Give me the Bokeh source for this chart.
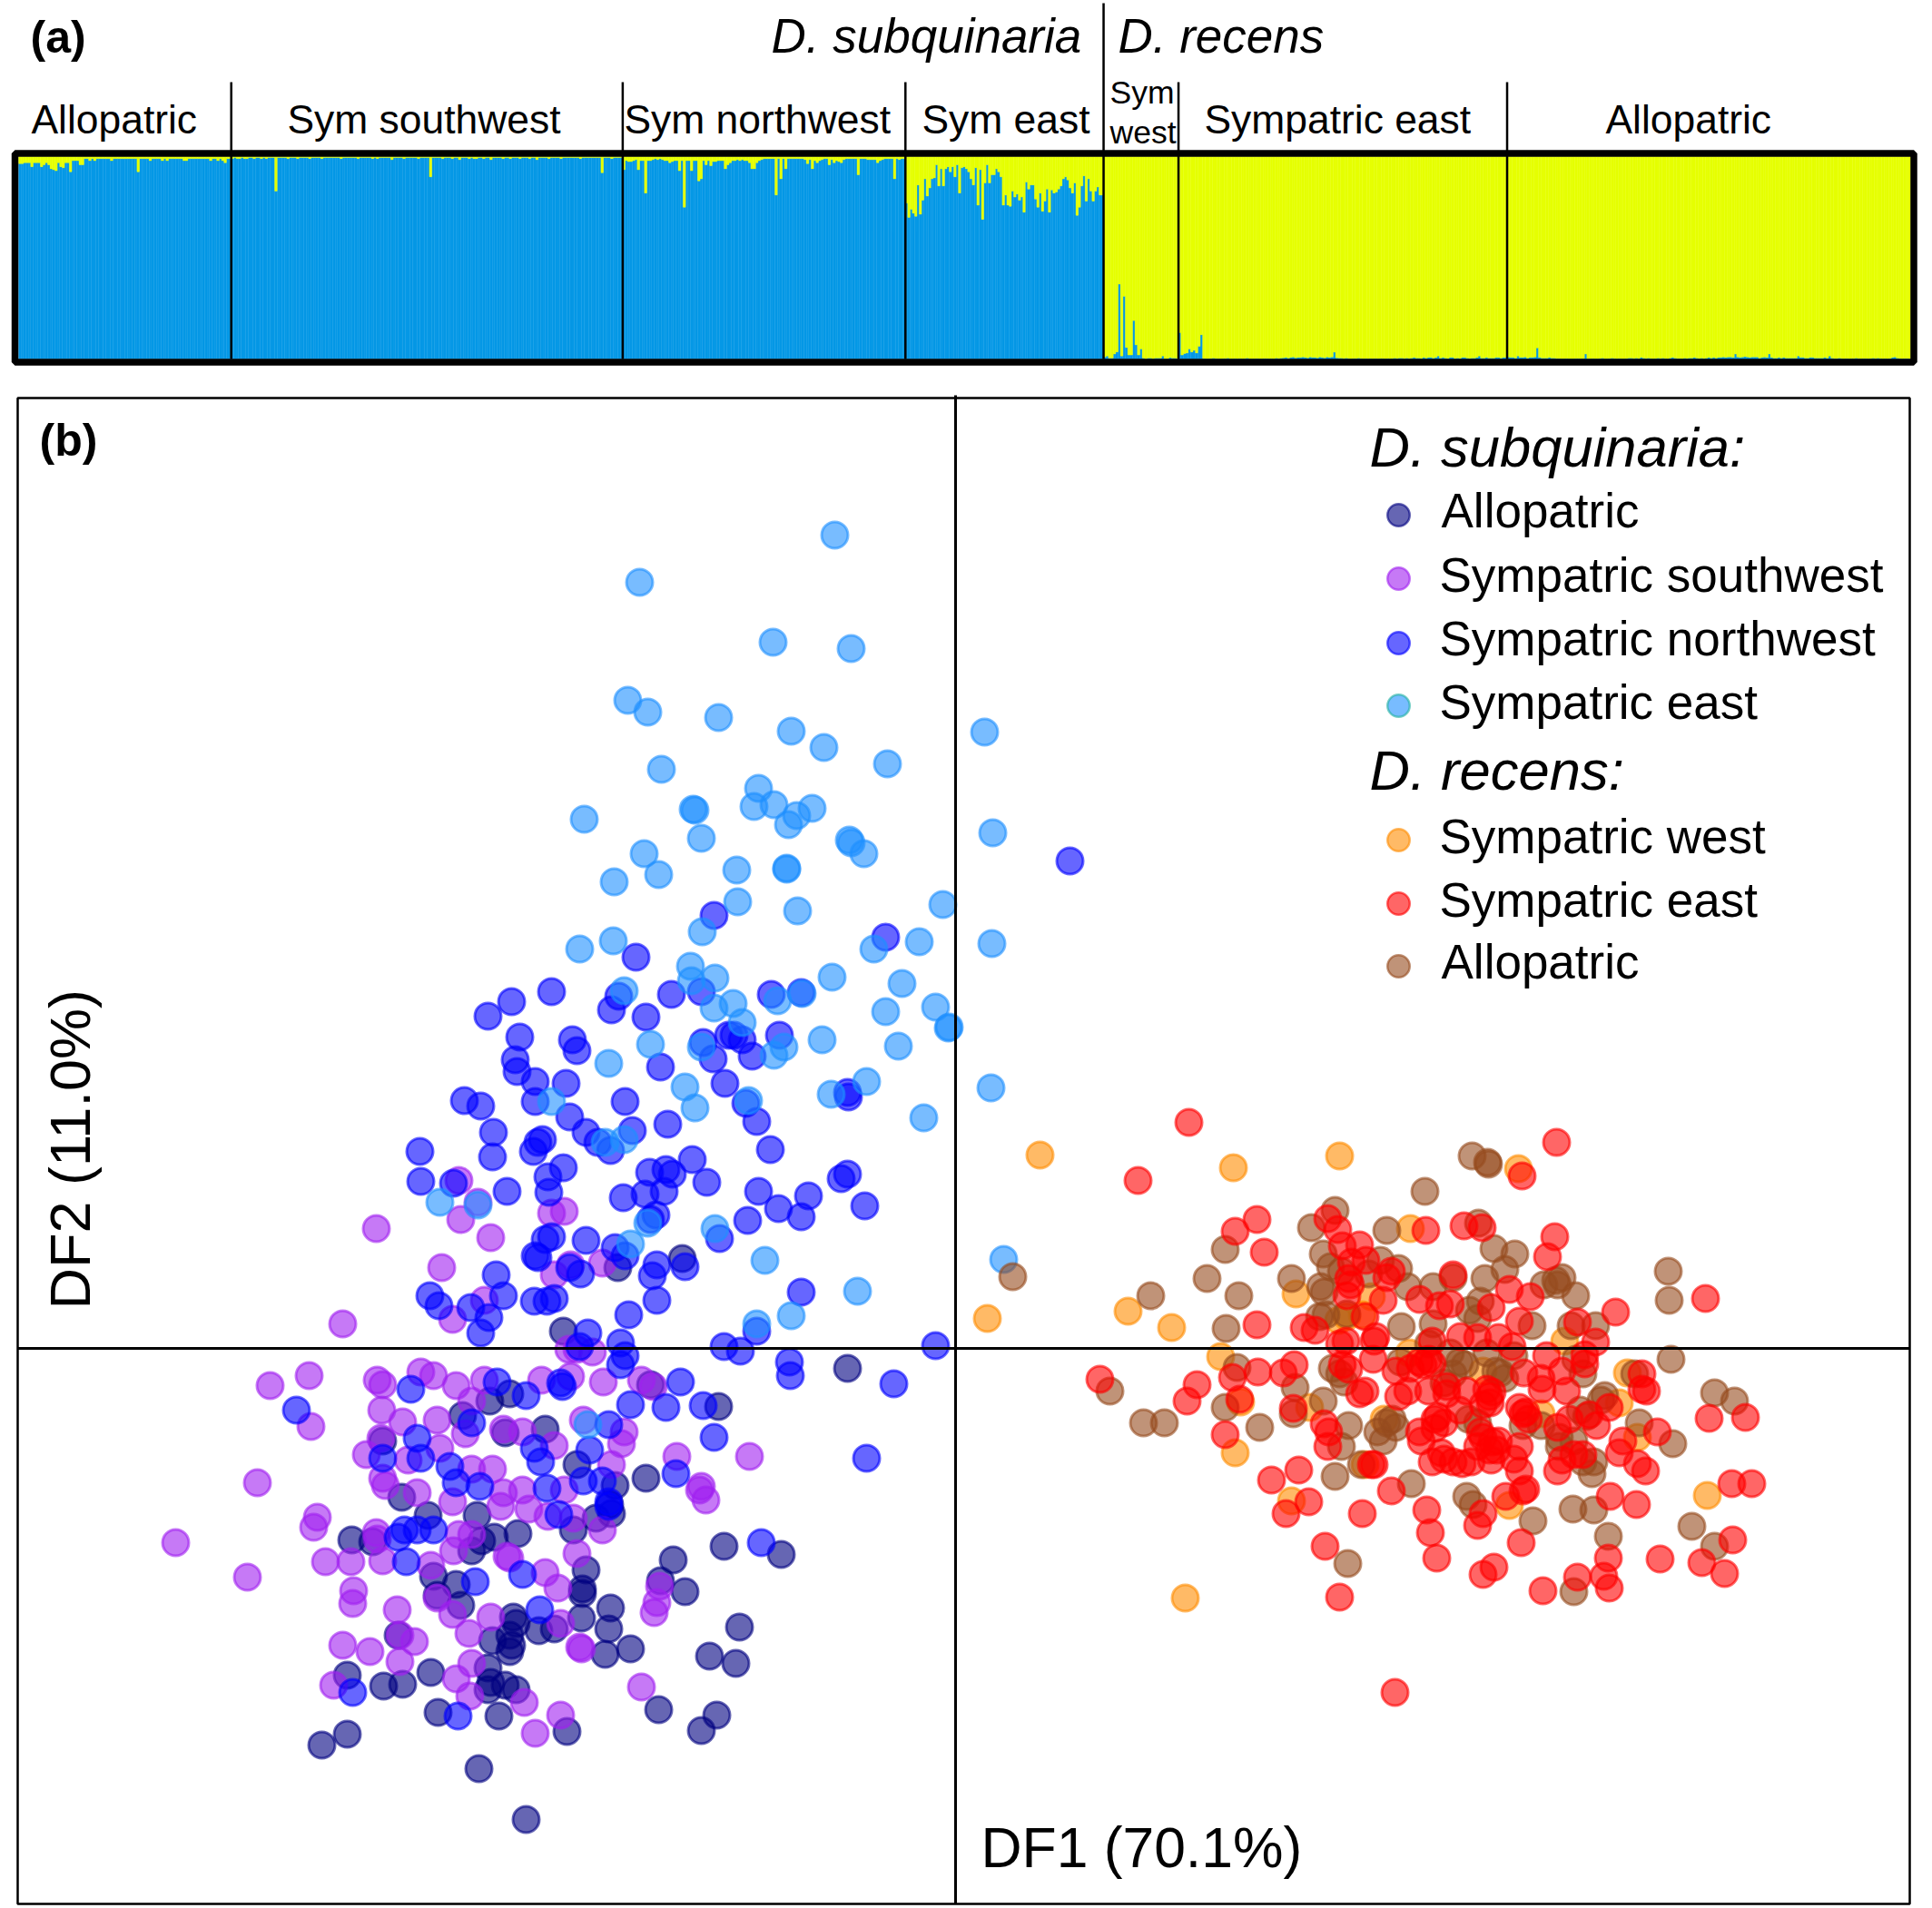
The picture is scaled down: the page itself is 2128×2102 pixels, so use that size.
# Structure barplot (a) and DAPC scatter (b), D. subquinaria / D. recens
import math

from bokeh.embed import file_html
from bokeh.layouts import column
from bokeh.models import Label, Range1d
from bokeh.plotting import figure
from bokeh.resources import INLINE

# (a) share of the other species' cluster per individual, in percent
# D. subquinaria groups: yellow share
sub_allo_yellow = [
    3.5, 3.5, 3, 3, 3, 5, 3, 3, 3, 5,
    4, 3, 4, 6, 6.5, 7, 3, 5, 5.5, 3,
    3, 7.5, 2, 2, 2, 4, 4, 1, 1, 2,
    1, 2, 1, 1, 1, 1, 1, 1, 2, 1,
    1, 1, 1, 1, 1, 1, 1, 1, 1, 7.5,
    1, 1, 1, 1, 2, 1, 1, 1, 1, 2,
    1, 2, 1, 1, 1, 1, 1, 1, 2, 2,
    1, 1, 1, 1, 1, 1, 1, 1, 1, 2,
    1, 1, 2, 1, 2, 3, 1, 1]
sub_sw_yellow = [
    1, .5, 1, 1, .5, 1, 1, .5, .5, 1,
    .5, .5, 1, .5, 1, .5, .5, .5, 17, .5,
    .5, .5, .5, 1, .5, .5, .5, 1, .5, .5,
    .5, .5, 1, .5, .5, .5, .5, 1, .5, .5,
    .5, .5, .5, .5, .5, 1, .5, .5, .5, .5,
    .5, .5, 1, .5, .5, .5, .5, .5, 1, .5,
    1, .5, .5, .5, .5, .5, 1.5, .5, .5, .5,
    .5, 1, .5, .5, .5, .5, .5, 1, .5, .5,
    .5, .5, 10, .5, .5, .5, .5, 1, .5, .5,
    .5, 1, .5, .5, 1.5, .5, .5, .5, 1, .5,
    1, 1, .5, .5, 1, .5, .5, 1.5, .5, .5,
    .5, .5, 1, .5, .5, 1, .5, .5, .5, 1,
    .5, .5, .5, 1, .5, .5, 1.5, .5, .5, .5,
    .5, 1, .5, .5, .5, .5, 1, .5, .5, .5,
    .5, .5, .5, .5, 1, .5, .5, .5, .5, .5,
    .5, .5, .5, 8, .5, .5, .5, 1, .5, .5,
    .5, .5]
sub_nw_yellow = [
    6.5, 2, 2.5, 2.5, 2, 1.5, 6.5, 2, 2, 18,
    2, 2, 1.5, 1, 1.5, 1, 1.5, 2, 2, 3,
    2.5, 2, 2, 7, 2, 25, 2, 2, 7, 2,
    2, 12, 11, 2, 4, 2, 4.5, 2.5, 2.5, 2,
    2, 2, 6, 4, 3, 2, 2, 1.5, 2, 1.5,
    2, 2, 3, 6, 6, 3, 2, 1.5, 1, 1,
    1, 1, 1, 19, 1, 11, 1, 6, 1, 1,
    1, 1, 1, 1, 1, 1.5, 3.5, 1.5, 6, 2,
    3, 2, 1.5, 1, 1, 4, 1.5, 3, 2, 2.5,
    3, 1.5, 1, 1, 1, 1, 1, 9, 1, 1,
    1, 1.5, 1.5, 1.5, 1.5, 3, 2, 1.5, 1, 1,
    1, 1, 11, 1, 1.5, 1, 1]
sub_east_yellow = [
    23, 30, 26, 28, 29.5, 14, 28.5, 21.5, 11, 19.5,
    15.5, 11, 10.5, 4, 14.5, 6, 14.5, 6, 5, 7.5,
    5, 10, 4, 18, 5.5, 5, 6, 7.5, 11, 14,
    5.5, 24, 6.5, 31, 13, 4, 13, 9, 9, 6,
    7.5, 10, 24, 19, 24, 24.5, 17, 20, 18.5, 21.5,
    20, 27.5, 12.5, 16, 14, 14, 21, 25, 18, 27,
    22, 16, 27.5, 16.5, 18, 17.5, 16, 14.5, 11, 10,
    11.5, 15.5, 18, 13, 29, 25, 14.5, 9.5, 22, 11,
    17, 22, 17, 15, 19, 19]
# D. recens groups: blue share
rec_west_blue = [
    1, 1.5, .5, .5, 2.5, 3.5, 37, 1.5, 31, 5.7,
    2, 2, 19, 7, 2, 5, .5, 0, .5, .5,
    .2, .5, .5, .5, 1.5, .2, .2, .7, .5, .5, .3]
rec_east_blue = [
    13, 2, 2.7, 3, 5, 3.5, 4.3, 3, 6.3, 12,
    .3, .2, .2, .3, .5, .3, .2, .2, .3, .3,
    .5, .2, .2, .3, .2, .3, .2, .3, .5, .2,
    .2, .2, .3, .2, .2, .3, .3, .2, .3, .2,
    .5, .3, .5, .6, .8, .5, .8, 1, .6, .8,
    .8, 1, .8, .6, 1, .8, .8, .6, 1, .8,
    .6, 1, .8, 1, 3.4, .6, .5, .5, .3, .5,
    .3, .2, .3, .3, .5, .3, .2, .3, .2, .3,
    .2, .3, .2, .3, .3, .2, .3, .2, .3, .5,
    .3, .5, .5, .3, .5, .3, .5, .8, .5, .5,
    .3, .8, .5, .8, .8, .5, .8, 1.5, .5, .8,
    .5, .3, .8, .8, .3, .5, .3, .8, .8, .5,
    .3, .5, .5, .8, 1.5, .5, .5, .8, .5, .5,
    .5, .8, .8, .5, .8, .8]
rec_allo_blue = [
    1, .8, .8, .5, 1.5, .8, .8, 1, .5, .8,
    .8, 1, 5.5, .8, .5, .5, .5, .8, .5, .5,
    .3, .3, .2, .2, .3, .2, .2, .2, .3, .3,
    .2, .3, 2.5, .2, .2, .3, .2, .2, .3, .5,
    .2, .2, .3, .5, .3, .2, .3, .2, .2, .3,
    .5, .5, .3, .5, .3, .8, .5, .3, .5, .3,
    .2, .3, .5, .3, .5, .3, .2, .5, .8, .5,
    .3, .3, .2, .5, .3, .5, .5, .8, .5, .3,
    .5, .3, .5, .8, .5, .8, .5, .8, .8, 1,
    .8, 1, 1, .8, 2.5, 1, .8, 1, 1.2, 1,
    .8, 1, 1, 1, .5, .8, 1, .8, 2.5, .8,
    .5, .5, .8, .5, .8, .5, .5, .5, .5, .5,
    1.5, .8, .8, .5, .5, .8, .8, .5, .5, .5,
    .5, .8, .5, 1.5, .5, .3, .3, .5, .3, .2,
    .3, .2, .3, .3, .5, .3, .2, .3, .3, .2,
    .3, .5, .3, .5, .3, .2, .3, .2, .3, .8,
    1, .5, .3, .2, .3, .3, .2]

# horizontal room each group takes in the barplot
group_slots = [88, 162, 117, 82, 31, 136, 167]
group_labels = ["Allopatric", "Sym southwest", "Sym northwest", "Sym east",
                "Sympatric east", "Allopatric"]

# (b) discriminant scores (DF1, DF2), units of 1/100
sub_allo = [
    (-473, -519), (-525, -463), (-698, -437), (-670, -425), (-570, -401), (-503, -405),
    (-428, -422), (-327, -398), (-263, -404), (-280, -421), (-665, -211), (-642, -213),
    (-341, -143), (-255, -218), (-192, -227), (-311, -233), (-261, -64), (-325, -256),
    (-298, -268), (-238, -307), (-271, -339), (-242, -347), (-358, -331), (-386, -337),
    (-382, -309), (-380, -286), (-412, -297), (-407, -244), (-411, -265), (-411, -270),
    (-417, -128), (-452, -89), (-496, -93), (-543, -74), (-513, -58), (-491, -50),
    (-336, -40), (-119, -22), (-432, 19), (-301, 99), (-372, 89), (-482, -204),
    (-527, -184), (-581, -184), (-575, -251), (-550, -260), (-545, -283), (-571, -272),
    (-510, -322), (-491, -316), (-487, -296), (-484, -303), (-489, -327), (-491, -334),
    (-459, -311), (-442, -309), (-614, -316), (-670, -360), (-630, -372), (-609, -370),
    (-578, -357), (-515, -352), (-512, -368), (-515, -376), (-496, -371), (-484, -376),
    (-522, -212), (-508, -208), (-533, -223), (-610, -164), (-631, -102), (-379, -182),
    (-396, -187), (-421, -200), (-375, -151), (-381, -172)]
sub_sw = [
    (-638, 132), (-545, 142), (-512, 122), (-566, 89), (-431, 151), (-675, 27), (-526, 161),
    (-547, 185), (-554, 32), (-519, 53), (-442, 81), (-389, 94), (-424, 92), (-445, 149),
    (-712, -30), (-755, -41), (-710, -86), (-637, -35), (-631, -40), (-632, -68), (-609, -81),
    (-589, -26), (-575, -30), (-550, -41), (-519, -35), (-456, -35), (-424, -31), (-388, -37),
    (-346, -35), (-333, -42), (-571, -79), (-533, -58), (-540, -94), (-498, -89), (-477, -92),
    (-410, -79), (-365, -92), (-368, -105), (-649, -117), (-633, -99), (-603, -123), (-568, -110),
    (-533, -133), (-510, -133), (-442, -107), (-379, -128), (-307, -119), (-227, -119), (-769, -148),
    (-631, -143), (-628, -151), (-593, -159), (-498, -159), (-477, -156), (-431, -156), (-554, -169),
    (-501, -174), (-470, -177), (-449, -185), (-421, -187), (-703, -186), (-707, -197), (-638, -203),
    (-637, -210), (-547, -205), (-533, -205), (-389, -200), (-280, -152), (-282, -156), (-275, -167),
    (-859, -214), (-694, -235), (-666, -235), (-631, -234), (-553, -223), (-494, -229), (-491, -231),
    (-417, -226), (-578, -239), (-452, -247), (-438, -264), (-780, -252), (-663, -267), (-664, -281),
    (-615, -288), (-571, -275), (-554, -293), (-512, -296), (-435, -303), (-536, -314), (-326, -262),
    (-329, -280), (-332, -291), (-675, -327), (-645, -334), (-596, -323), (-612, -345), (-612, -316),
    (-414, -329), (-412, -331), (-533, -347), (-550, -364), (-535, -383), (-475, -390), (-685, -371),
    (-435, -404), (-463, -424), (-346, -373), (-417, -1), (-400, -4), (-426, -1)]
sub_nw = [
    (-266, 477), (-352, 431), (-445, 393), (-489, 382), (-515, 366), (-371, 388), (-379, 373),
    (-313, 390), (-341, 365), (-280, 393), (-203, 390), (-170, 392), (-480, 343), (-422, 340),
    (-417, 328), (-485, 318), (-483, 305), (-463, 294), (-429, 292), (-463, 272), (-425, 255),
    (-541, 273), (-523, 267), (-407, 238), (-394, 227), (-380, 218), (-356, 240), (-364, 272),
    (-317, 247), (-325, 310), (-278, 337), (-267, 319), (-250, 345), (-244, 345), (-235, 340),
    (-224, 322), (-194, 345), (-254, 292), (-231, 270), (-219, 250), (-204, 219), (-509, 238),
    (-510, 211), (-590, 217), (-589, 184), (-553, 182), (-494, 173), (-455, 230), (-460, 227),
    (-465, 217), (-432, 199), (-449, 189), (-448, 172), (-337, 194), (-319, 197), (-312, 192),
    (-290, 208), (-274, 183), (-217, 173), (-195, 154), (-162, 168), (-170, 145), (-229, 141),
    (-366, 166), (-342, 170), (-321, 173), (-330, 147), (-336, 142), (-260, 121), (-407, 119),
    (-445, 123), (-452, 120), (-463, 102), (-460, 100), (-375, 111), (-364, 102), (-329, 92),
    (-334, 80), (-298, 90), (-329, 53), (-425, 89), (-413, 82), (-360, 37), (-170, 62),
    (-219, 19), (-506, 81), (-498, 58), (-579, 58), (-569, 47), (-534, 45), (-514, 34),
    (-523, 17), (-464, 52), (-450, 52), (-442, 55), (-405, 17), (-414, 2), (-369, 6),
    (-364, -8), (-369, -18), (-255, 2), (-237, -3), (-183, -15), (-182, -30), (-77, 453),
    (-119, 282), (-118, 277), (-126, 187), (-119, 192), (-100, 157), (126, 537), (-68, -39),
    (-22, 3), (-505, -37), (-435, -38), (-433, -42), (-473, -52), (-600, -45), (-726, -68),
    (-533, -82), (-303, -37), (-358, -62), (-319, -65), (-278, -63), (-382, -84), (-403, -112),
    (-266, -98), (-593, -99), (-631, -121), (-589, -121), (-557, -130), (-464, -110), (-457, -125),
    (-550, -148), (-524, -152), (-450, -154), (-410, -146), (-389, -146), (-308, -138), (-382, -169),
    (-382, -174), (-437, -183), (-214, -214), (-98, -121), (-607, -200), (-593, -200), (-575, -200),
    (-614, -208), (-605, -235), (-477, -249), (-529, -257), (-458, -288), (-664, -379), (-548, -405)]
sub_east = [
    (-133, 896), (-348, 844), (-201, 778), (-115, 771), (-361, 714), (-339, 701), (-261, 695),
    (-181, 680), (-145, 662), (-75, 644), (32, 679), (-324, 638), (-289, 594), (-287, 593),
    (-409, 583), (-217, 617), (-222, 597), (-200, 599), (-184, 577), (-175, 587), (-158, 595),
    (-280, 562), (-117, 560), (-115, 557), (-101, 545), (41, 568), (-343, 545), (-327, 522),
    (-376, 514), (-241, 527), (-186, 529), (-186, 528), (-240, 492), (-174, 482), (-14, 489),
    (-279, 459), (-90, 440), (-40, 448), (40, 446), (-414, 440), (-377, 449), (-292, 421),
    (-265, 408), (-136, 409), (-59, 402), (-365, 394), (-291, 405), (-245, 380), (-266, 375),
    (-196, 383), (-169, 391), (-22, 376), (-7, 354), (-8, 353), (-77, 371), (-235, 359),
    (-147, 340), (-63, 333), (-336, 335), (-280, 332), (-189, 332), (-200, 323), (-382, 314),
    (-298, 288), (-287, 265), (-228, 273), (-137, 280), (-98, 294), (39, 287), (-35, 254),
    (-445, 272), (-386, 227), (-365, 230), (-568, 161), (-526, 158), (-339, 138), (-358, 115),
    (-265, 132), (-210, 97), (-108, 63), (-181, 36), (-219, 27), (-405, -84), (53, 98)]
rec_west = [
    (93, 213), (306, 199), (423, 212), (620, 198), (501, 132), (375, 60), (190, 41), (238, 23),
    (35, 33), (292, -9), (314, -59), (390, -65), (308, -115), (370, -168), (610, -173), (828, -162),
    (253, -275), (740, -27), (751, -98), (731, -60), (671, 8), (472, -78), (451, -128), (448, 37),
    (422, 31), (458, 57), (581, -25), (500, -5), (645, -72), (431, 35)]
rec_allo = [
    (569, 212), (586, 205), (587, 203), (517, 173), (63, 79), (215, 58), (277, 77), (297, 109),
    (312, 58), (298, 22), (170, -47), (207, -82), (230, -82), (297, -65), (310, -21), (335, -87),
    (418, 152), (392, 133), (475, 130), (405, 104), (576, 138), (593, 110), (616, 104), (605, 87),
    (468, 97), (488, 88), (413, 90), (370, 77), (402, 68), (406, 62), (498, 68), (526, 68),
    (548, 78), (583, 77), (648, 70), (668, 78), (661, 75), (663, 70), (683, 58), (578, 52),
    (566, 42), (575, 33), (408, 37), (491, 24), (526, 27), (635, 25), (705, 25), (678, 25),
    (785, 85), (786, 53), (788, -12), (836, -49), (858, -58), (790, -105), (753, -82), (715, -52),
    (711, -57), (688, -68), (748, -28), (691, -28), (683, -12), (703, -125), (701, -138), (665, -108),
    (681, -102), (636, -190), (680, -177), (703, -178), (719, -207), (811, -196), (836, -218), (681, -268),
    (432, -237), (502, -149), (563, -163), (570, -172), (418, -141), (447, -128), (374, -43), (405, -58),
    (372, -72), (433, -85), (425, -108), (465, -92), (475, -82), (481, -78), (485, -87), (471, -102),
    (423, -28), (428, -37), (555, -15), (561, -18), (595, -25), (600, -27), (605, -33), (545, -5),
    (585, -5), (615, -8), (521, 5), (565, -78), (575, -82), (645, -85), (625, -85), (695, -75),
    (665, -98), (691, -125), (548, -28), (538, -38), (490, -15), (415, -22), (401, 35), (431, 38),
    (455, 82), (425, 85)]
rec_east = [
    (257, 249), (201, 185), (662, 227), (624, 190), (308, 129), (332, 142), (340, 106), (332, 26),
    (159, -34), (266, -40), (255, -58), (305, -32), (313, -56), (333, -26), (297, -95), (855, -149),
    (877, -149), (870, -76), (856, -211), (484, -379),
    (410, 143), (421, 131), (426, 113), (445, 114), (436, 95), (452, 97), (480, 85), (475, 78),
    (433, 77), (435, 70), (431, 58), (471, 53), (451, 35), (511, 54), (533, 47), (545, 49),
    (548, 81), (590, 45), (610, 65), (633, 57), (621, 30), (560, 135), (580, 133), (518, 130),
    (660, 123), (652, 101), (727, 40), (685, 29), (705, 7), (693, -7), (693, -17), (651, -8),
    (668, -25), (626, -27), (645, -33), (646, -45), (673, -47), (826, 55), (525, 8), (556, 13),
    (575, 12), (598, 12), (613, 2), (384, 23), (396, 20), (463, 13), (461, 8), (430, 8),
    (423, 5), (460, -12), (511, -15), (525, -17), (485, -25), (373, -18), (361, -27), (426, -18),
    (433, -23), (451, -47), (445, -50), (488, -53), (498, -47), (521, -47), (541, -50), (563, -47),
    (588, -53), (589, -60), (625, -72), (628, -70), (756, -28), (756, -45), (761, -47), (830, -77),
    (773, -92), (720, -65), (698, -73), (706, -85), (676, -78), (663, -87), (735, -102), (731, -115),
    (751, -127), (760, -135), (721, -163), (750, -172), (372, -66), (406, -83), (411, -92), (410, -108),
    (458, -128), (461, -128), (378, -134), (348, -145), (389, -169), (364, -182), (480, -157), (448, -182),
    (528, -78), (511, -92), (513, -102), (531, -75), (555, -68), (538, -122), (558, -127), (575, -108),
    (591, -103), (588, -112), (596, -112), (590, -123), (621, -108), (615, -122), (625, -157), (606, -163),
    (621, -135), (628, -155), (519, -178), (523, -203), (530, -231), (575, -195), (581, -182), (407, -218),
    (423, -274), (623, -214), (581, -249), (593, -241), (647, -267), (719, -231), (685, -252), (714, -251),
    (720, -264), (776, -232), (822, -236), (847, -248), (663, -135), (681, -117), (668, -123), (691, -117),
    (541, -42), (515, -18), (585, -45), (591, -48), (581, -62), (621, -65), (631, -78), (528, -88),
    (538, -82), (581, -98), (578, -92), (598, -102), (525, -125), (535, -115), (548, -125), (568, -125),
    (501, -22), (521, -12)]

FONT = "Liberation Sans"
BLUE = "#0598e6"
YELLOW = "#e6ff00"
BAR_W = 2084 / sum(group_slots)   # px per slot
PCT = 2.23           # px per percent
BASE_SHIFT = 0.335   # Label puts an "alphabetic" baseline this many em too low


def ax(px):
    return (px - 20) / BAR_W


def ay(px):
    return (395 - px) / PCT


def bx(px):
    return px - 1052


def by(px):
    return 1485 - px


def add_text(p, x, y, text, size, style="normal", angle=0):
    shift = BASE_SHIFT * size
    p.add_layout(Label(x=x, y=y, text=text, text_font=FONT, text_font_size=f"{size}px",
                       text_font_style=style, text_color="black", angle=angle,
                       text_baseline="alphabetic", text_align="left",
                       x_offset=-shift if angle else 0, y_offset=0 if angle else shift))


# panel (a)
pa = figure(width=2128, height=410, output_backend="svg", toolbar_location=None,
            x_axis_type=None, y_axis_type=None, min_border=0, outline_line_color=None,
            x_range=Range1d(ax(0), ax(2128)), y_range=Range1d(ay(410), ay(0)))

groups = [[100 - v for v in sub_allo_yellow], [100 - v for v in sub_sw_yellow],
          [100 - v for v in sub_nw_yellow], [100 - v for v in sub_east_yellow],
          rec_west_blue, rec_east_blue, rec_allo_blue]
xs, widths, blue_share, edges = [], [], [], []
start = 0
for vals, slots in zip(groups, group_slots):
    w = slots / len(vals)
    for i, v in enumerate(vals):
        xs.append(start + (i + 0.5) * w)
        widths.append(w)
        blue_share.append(v)
    start += slots
    edges.append(start)
edges = edges[:-1]

pa.vbar(x=xs, width=widths, bottom=0, top=blue_share, fill_color=BLUE, line_color=BLUE, line_width=0.4)
pa.vbar(x=xs, width=widths, bottom=blue_share, top=100, fill_color=YELLOW, line_color=YELLOW, line_width=0.4)

# outer box
pa.quad(left=ax(16), right=ax(2107.5), top=ay(168.5), bottom=ay(398.5),
        fill_color=None, line_color="black", line_width=7.5)

tops = [ay(90), ay(90), ay(90), ay(3), ay(90), ay(90)]
pa.segment(x0=edges, y0=[0] * len(edges), x1=edges, y1=tops, line_color="black", line_width=2.5)

add_text(pa, ax(33), ay(57), "(a)", 50, "bold")
add_text(pa, ax(849), ay(57), "D. subquinaria", 53, "italic")
add_text(pa, ax(1231), ay(57), "D. recens", 53, "italic")
for px, lab in zip([34, 316, 687, 1015, 1326, 1768], group_labels):
    add_text(pa, ax(px), ay(146), lab, 44.4)
add_text(pa, ax(1222), ay(113), "Sym", 35.5)
add_text(pa, ax(1222), ay(157), "west", 35.5)

# panel (b)
pb = figure(width=2128, height=1690, output_backend="svg", toolbar_location=None,
            x_axis_type=None, y_axis_type=None, min_border=0, outline_line_color=None,
            x_range=Range1d(bx(0), bx(2128)), y_range=Range1d(by(2100), by(410)))

series = [
    (sub_allo, "#000080"),
    (sub_sw, "#a020f0"),
    (sub_nw, "#0000ff"),
    (sub_east, "#1e90ff"),
    (rec_west, "#ff8c00"),
    (rec_allo, "#964b1e"),
    (rec_east, "#ff0000"),
]
for pts, col in series:
    pb.scatter([a for a, b in pts], [b for a, b in pts], size=29, marker="circle",
               fill_color=col, fill_alpha=0.6, line_color=col, line_alpha=0.6, line_width=3)

# box and the two axes through zero
pb.quad(left=bx(19), right=bx(2103), top=by(438), bottom=by(2097),
        fill_color=None, line_color="black", line_width=2.5)
pb.segment(x0=[0, bx(19)], y0=[by(2097), 0], x1=[0, bx(2103)], y1=[by(435), 0],
           line_color="black", line_width=3)

add_text(pb, bx(43), by(501), "(b)", 50, "bold")
add_text(pb, bx(98), by(1442), "DF2 (11.0%)", 63, angle=math.pi / 2)
add_text(pb, bx(1080), by(2056), "DF1 (70.1%)", 62.4)

add_text(pb, bx(1508), by(513), "D. subquinaria:", 61.5, "italic")
add_text(pb, bx(1508), by(869), "D. recens:", 61.5, "italic")

legend_rows = [
    ("Allopatric", 1587, 580, 567, "#000080", "#000080"),
    ("Sympatric southwest", 1585, 651, 637, "#a020f0", "#a020f0"),
    ("Sympatric northwest", 1585, 721, 708, "#0000ff", "#0000ff"),
    ("Sympatric east", 1585, 791, 777, "#1e90ff", "#20b0a0"),
    ("Sympatric west", 1585, 939, 925, "#ff8c00", "#ff8c00"),
    ("Sympatric east", 1585, 1009, 995, "#ff0000", "#ff0000"),
    ("Allopatric", 1587, 1077, 1064, "#964b1e", "#964b1e"),
]
for lab, left, base, centre, fill, line in legend_rows:
    add_text(pb, bx(left), by(base), lab, 53)
    pb.scatter([bx(1540)], [by(centre)], size=24.5, marker="circle", fill_color=fill, fill_alpha=0.6,
               line_color=line, line_alpha=0.6, line_width=2.5)

layout = column(pa, pb, spacing=0)
open("out.html", "w").write(file_html(layout, INLINE))
